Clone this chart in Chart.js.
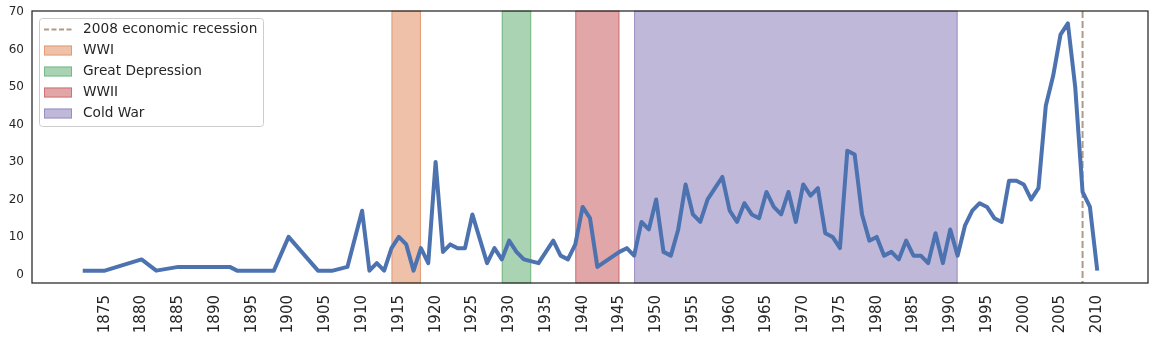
<!DOCTYPE html>
<html>
<head>
<meta charset="utf-8">
<script src="https://cdn.jsdelivr.net/npm/chart.js@4.4.1/dist/chart.umd.min.js"></script>
<style>
  html, body { margin: 0; padding: 0; background: #ffffff; }
</style>
</head>
<body>
<canvas id="chart" width="1155" height="340"></canvas>
<script>
// Yearly counts
const years = [1872, 1875, 1880, 1882, 1885, 1892, 1893, 1898, 1900, 1904, 1906, 1908, 1910, 1911, 1912, 1913,
  1914, 1915, 1916, 1917, 1918, 1919, 1920, 1921, 1922, 1923, 1924, 1925, 1927, 1928, 1929, 1930, 1931, 1932,
  1934, 1936, 1937, 1938, 1939, 1940, 1941, 1942, 1945, 1946, 1947, 1948, 1949, 1950, 1951, 1952, 1953, 1954,
  1955, 1956, 1957, 1958, 1959, 1960, 1961, 1962, 1963, 1964, 1965, 1966, 1967, 1968, 1969, 1970, 1971, 1972,
  1973, 1974, 1975, 1976, 1977, 1978, 1979, 1980, 1981, 1982, 1983, 1984, 1985, 1986, 1987, 1988, 1989, 1990,
  1991, 1992, 1993, 1994, 1995, 1996, 1997, 1998, 1999, 2000, 2001, 2002, 2003, 2004, 2005, 2006, 2007, 2008,
  2009, 2010];
const counts = [1, 1, 4, 1, 2, 2, 1, 1, 10, 1, 1, 2, 17, 1, 3, 1,
  7, 10, 8, 1, 7, 3, 30, 6, 8, 7, 7, 16, 3, 7, 4, 9, 6, 4,
  3, 9, 5, 4, 8, 18, 15, 2, 6, 7, 5, 14, 12, 20, 6, 5, 12, 24,
  16, 14, 20, 23, 26, 17, 14, 19, 16, 15, 22, 18, 16, 22, 14, 24, 21, 23,
  11, 10, 7, 33, 32, 16, 9, 10, 5, 6, 4, 9, 5, 5, 3, 11, 3, 12,
  5, 13, 17, 19, 18, 15, 14, 25, 25, 24, 20, 23, 45, 53, 64, 67, 50, 22,
  18, 1];

// Shaded periods
const spanLabels = ['WWI', 'Great Depression', 'WWII', 'Cold War'];
const spanStarts = [1914, 1929, 1939, 1947];
const spanEnds = [1918, 1933, 1945, 1991];
const spanColors = ['221,132,82', '85,168,104', '196,78,82', '129,114,179'];

const recessionYear = 2008;
const recessionLabel = '2008 economic recession';

const xTicks = [];
for (let y = 1875; y <= 2010; y += 5) xTicks.push(y);
const yTicks = [0, 10, 20, 30, 40, 50, 60, 70];

const FONT = '"DejaVu Sans", sans-serif';
const INK = '#262626';

const periodsPlugin = {
  id: 'periods',
  beforeDatasetsDraw(chart) {
    const { ctx, chartArea, scales } = chart;
    ctx.save();
    spanStarts.forEach((start, i) => {
      const x0 = scales.x.getPixelForValue(start);
      const x1 = scales.x.getPixelForValue(spanEnds[i]);
      ctx.fillStyle = `rgba(${spanColors[i]},0.5)`;
      ctx.fillRect(x0, chartArea.top, x1 - x0, chartArea.bottom - chartArea.top);
      ctx.strokeStyle = `rgba(${spanColors[i]},0.6)`;
      ctx.lineWidth = 1;
      ctx.strokeRect(x0 + 0.5, chartArea.top, x1 - x0 - 1, chartArea.bottom - chartArea.top);
    });
    // recession marker
    const xr = scales.x.getPixelForValue(recessionYear);
    ctx.strokeStyle = 'rgba(147,120,96,0.75)';
    ctx.lineWidth = 2;
    ctx.setLineDash([7, 3]);
    ctx.beginPath();
    ctx.moveTo(xr, chartArea.top);
    ctx.lineTo(xr, chartArea.bottom);
    ctx.stroke();
    ctx.restore();
  },
  afterDraw(chart) {
    const { ctx, chartArea } = chart;
    ctx.save();
    // axes frame
    ctx.strokeStyle = INK;
    ctx.lineWidth = 1.25;
    ctx.strokeRect(chartArea.left, chartArea.top, chartArea.right - chartArea.left, chartArea.bottom - chartArea.top);

    // legend box
    const lx = 39, ly = 18, lw = 224, lh = 108;
    ctx.fillStyle = 'rgba(255,255,255,0.8)';
    ctx.strokeStyle = '#cccccc';
    ctx.lineWidth = 1;
    ctx.beginPath();
    ctx.roundRect(lx + 0.5, ly + 0.5, lw, lh, 3);
    ctx.fill();
    ctx.stroke();

    ctx.font = '13.7px ' + FONT;
    ctx.textBaseline = 'middle';
    ctx.textAlign = 'left';
    let rowY = 29.5;
    ctx.strokeStyle = 'rgba(147,120,96,0.75)';
    ctx.lineWidth = 2;
    ctx.setLineDash([5, 2.5]);
    ctx.beginPath();
    ctx.moveTo(44, rowY);
    ctx.lineTo(72, rowY);
    ctx.stroke();
    ctx.setLineDash([]);
    ctx.fillStyle = INK;
    ctx.fillText(recessionLabel, 83, rowY);
    spanLabels.forEach((label, i) => {
      rowY += 21;
      ctx.fillStyle = `rgba(${spanColors[i]},0.5)`;
      ctx.fillRect(44, rowY - 5, 28, 10);
      ctx.strokeStyle = `rgba(${spanColors[i]},0.6)`;
      ctx.lineWidth = 1;
      ctx.strokeRect(44.5, rowY - 4.5, 27, 9);
      ctx.fillStyle = INK;
      ctx.fillText(label, 83, rowY);
    });
    ctx.restore();
  }
};

new Chart(document.getElementById('chart'), {
  type: 'line',
  data: {
    datasets: [{
      data: years.map((y, i) => ({ x: y, y: counts[i] })),
      borderColor: '#4c72b0',
      borderWidth: 4,
      pointRadius: 0,
      tension: 0,
      borderJoinStyle: 'round',
      fill: false
    }]
  },
  options: {
    responsive: false,
    animation: false,
    layout: { padding: { top: 11, right: 7, left: 0, bottom: 0 } },
    plugins: { legend: { display: false }, tooltip: { enabled: false } },
    scales: {
      x: {
        type: 'linear',
        min: 1865.1,
        max: 2016.9,
        grid: { display: false, drawTicks: false },
        border: { display: false },
        afterBuildTicks: (scale) => { scale.ticks = xTicks.map(v => ({ value: v })); },
        afterFit: (scale) => {
          scale.height = 57;
          scale.paddingLeft = 0;
          scale.paddingRight = 0;
        },
        ticks: {
          autoSkip: false,
          minRotation: 90,
          maxRotation: 90,
          padding: 12,
          color: INK,
          font: { family: FONT, size: 15 },
          callback: (v) => String(v)
        }
      },
      y: {
        type: 'linear',
        min: -2.3,
        max: 70.3,
        grid: { display: false, drawTicks: false },
        border: { display: false },
        afterBuildTicks: (scale) => { scale.ticks = yTicks.map(v => ({ value: v })); },
        afterFit: (scale) => {
          scale.width = 32;
          scale.paddingTop = 0;
          scale.paddingBottom = 0;
        },
        ticks: {
          padding: 8,
          color: INK,
          font: { family: FONT, size: 12 },
          callback: (v) => String(v)
        }
      }
    }
  },
  plugins: [periodsPlugin]
});
</script>
</body>
</html>
